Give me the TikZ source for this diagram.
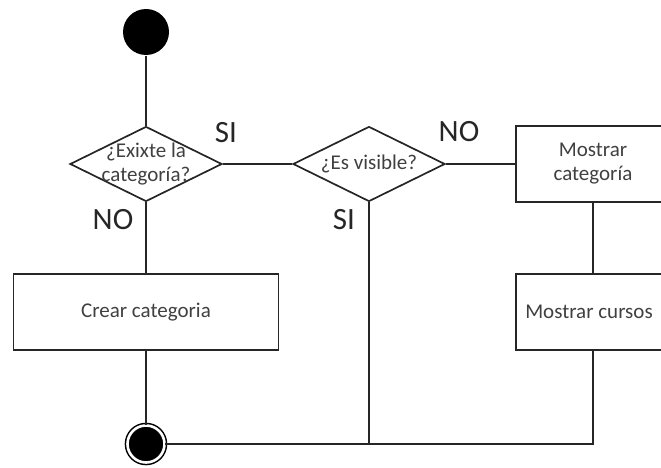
\documentclass[tikz,border=0pt]{standalone}
\usepackage{fontspec}
\setmainfont{Carlito}
\usetikzlibrary{shapes.geometric}
\begin{document}
\begin{tikzpicture}[x=1pt,y=-1pt,line width=1.7pt,
  flow/.style={draw=black!85},
  boxtext/.style={font=\fontsize{21}{24}\selectfont,align=center,text=black!75},
  action/.style={flow,rectangle,minimum width=265pt,minimum height=76pt,inner sep=0pt,boxtext},
  decision/.style={flow,diamond,minimum width=152pt,minimum height=75pt,inner sep=0pt,aspect=2},
  guard/.style={font=\fontsize{31}{31}\selectfont,text=black!85},
  startdot/.style={circle,fill=black,minimum size=46pt,inner sep=0pt},
  enddot/.style={circle,draw=black,fill=black,minimum size=37pt,inner sep=0pt,
    double=white,double distance=2.6pt,line width=1.5pt}]
\useasboundingbox (0,0) rectangle (661,468);
\clip (0,0) rectangle (661,468);

% nodes
\node[startdot] (start) at (146,32) {};
\node[decision,label={[boxtext]center:¿Exixte la\\categoría?}] (exists) at (146,164) {};
\node[decision,label={[boxtext]center:¿Es visible?}] (visible) at (369,164) {};
\node[action,minimum width=154pt] (showcat) at (593,164) {Mostrar\\categoría};
\node[action,minimum width=154pt] (showcourses) at (593,312) {\hspace*{-8pt}Mostrar cursos};
\node[action] (create) at (146,312) {Crear categoria};
\node[enddot] (end) at (146,444) {};
\coordinate (join) at (369,444);
\coordinate (corner) at (593,444);

% guard labels
\node[guard] (si1) at (226,133) {SI};
\node[guard] (no1) at (113,220) {NO};
\node[guard] (no2) at (459,132) {NO};
\node[guard] (si2) at (344,220) {SI};

% connectors
\draw[flow] (start) -- (exists.north);
\draw[flow] (exists.east) -- (visible.west);
\draw[flow] (visible.east) -- (showcat.west);
\draw[flow] (showcat.south) -- (showcourses.north);
\draw[flow] (exists.south) -- (create.north);
\draw[flow] (create.south) -- (end.north);
\draw[flow] (visible.south) -- (join);
\draw[flow] (showcourses.south) -- (corner) -- (end.east);
\end{tikzpicture}
\end{document}
